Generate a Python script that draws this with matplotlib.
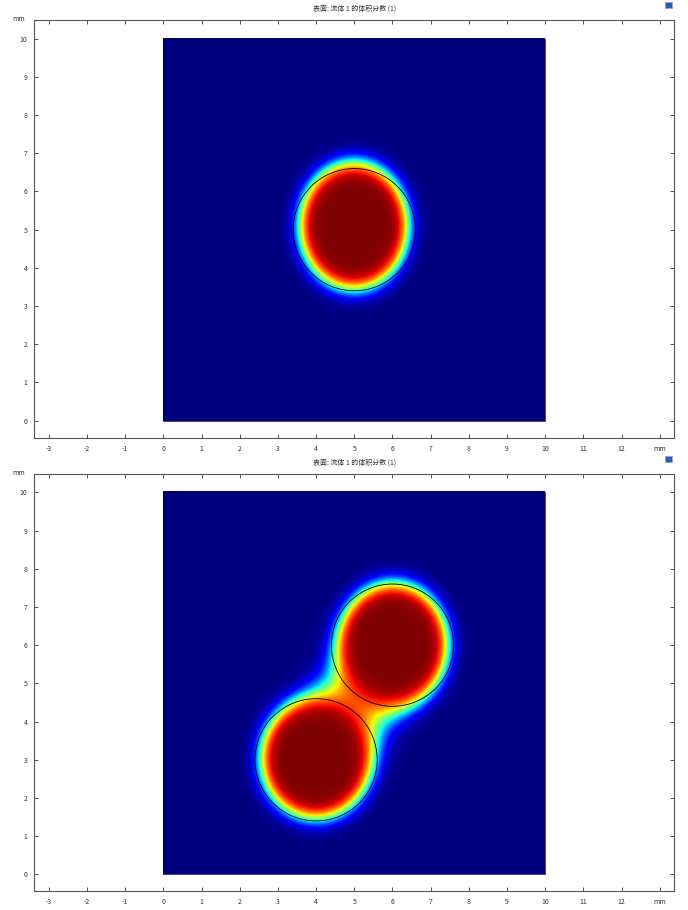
import numpy as np
import matplotlib
matplotlib.use('Agg')
import matplotlib.pyplot as plt
from matplotlib.patches import Circle, Rectangle

plt.rcParams['font.family'] = ['Noto Sans CJK SC', 'DejaVu Sans']

title = '表面: 流体 1 的体积分数 (1)'

# blob parameters (mm): centre x, centre y, half-width, half-height
top_blobs_x = [5.0]
top_blobs_y = [5.1]
top_blobs_ax = [1.42]
top_blobs_ay = [1.66]

bot_blobs_x = [4.0, 6.03]
bot_blobs_y = [3.0, 6.0]
bot_blobs_ax = [1.43, 1.42]
bot_blobs_ay = [1.55, 1.60]

# black interface circles (initial positions)
top_circ_x = [5.0]
top_circ_y = [5.0]
top_circ_r = [1.6]
bot_circ_x = [4.0, 6.0]
bot_circ_y = [3.0, 6.0]
bot_circ_r = [1.6, 1.6]

xticks = list(range(-3, 14))
yticks = list(range(0, 11))

width = 0.24   # interface thickness
k_smooth = 0.68


def field(cx, cy, ax_, ay_):
    x = np.linspace(0, 10, 600)
    y = np.linspace(0, 10, 600)
    X, Y = np.meshgrid(x, y)
    dists = []
    for a, b, sa, sb in zip(cx, cy, ax_, ay_):
        rr = np.sqrt(((X - a) / sa) ** 2 + ((Y - b) / sb) ** 2)
        dists.append((rr - 1.0) * np.sqrt(sa * sb))
    dists = np.array(dists)
    if len(dists) > 1:
        d = -k_smooth * np.log(np.sum(np.exp(-dists / k_smooth), axis=0))
    else:
        d = dists[0]
    return 0.5 * (1 - np.tanh(d / width))


def draw(ax, phi, ccx, ccy, cr):
    ax.imshow(phi, extent=[0, 10, 0, 10], origin='lower', cmap='jet',
              vmin=0, vmax=1, interpolation='bilinear')
    ax.add_patch(Rectangle((0, 0), 10, 10, fill=False, edgecolor='#000030', lw=0.5))
    for a, b, r in zip(ccx, ccy, cr):
        ax.add_patch(Circle((a, b), r, fill=False, edgecolor='black', lw=0.6))
    ax.set_xlim(-3.38, 13.38)
    ax.set_ylim(-0.445, 10.48)
    ax.set_aspect('auto')
    ax.set_xticks(xticks)
    ax.set_xticklabels([str(t) for t in xticks[:-1]] + ['mm'])
    ax.set_yticks(yticks)
    ax.tick_params(direction='in', length=3, width=0.6, labelsize=5,
                   colors='#333333', top=True, right=True, pad=5)
    for s in ax.spines.values():
        s.set_color('#555555')
        s.set_linewidth(0.8)
    ax.text(-0.015, 1.003, 'mm', transform=ax.transAxes, fontsize=5,
            color='#333333', ha='right', va='center')
    ax.set_title(title, fontsize=5, color='#333333', pad=7)


fig = plt.figure(figsize=(6.88, 9.10), dpi=100)
ax1 = fig.add_axes([34.3 / 688, 1 - 437.7 / 910, 640 / 688, 417.4 / 910])
ax2 = fig.add_axes([34.3 / 688, 1 - 891.4 / 910, 640 / 688, 417.4 / 910])

draw(ax1, field(top_blobs_x, top_blobs_y, top_blobs_ax, top_blobs_ay),
     top_circ_x, top_circ_y, top_circ_r)
draw(ax2, field(bot_blobs_x, bot_blobs_y, bot_blobs_ax, bot_blobs_ay),
     bot_circ_x, bot_circ_y, bot_circ_r)

# small toolbar icon in the corner of each plot
for ypix in [4, 458]:
    fig.patches.append(Rectangle((665 / 688, 1 - (ypix + 4) / 910), 7 / 688, 6 / 910,
                                 transform=fig.transFigure, facecolor='#2a5db0',
                                 edgecolor='#9aa6c0', lw=0.6))

fig.savefig('out.png', dpi=100)
